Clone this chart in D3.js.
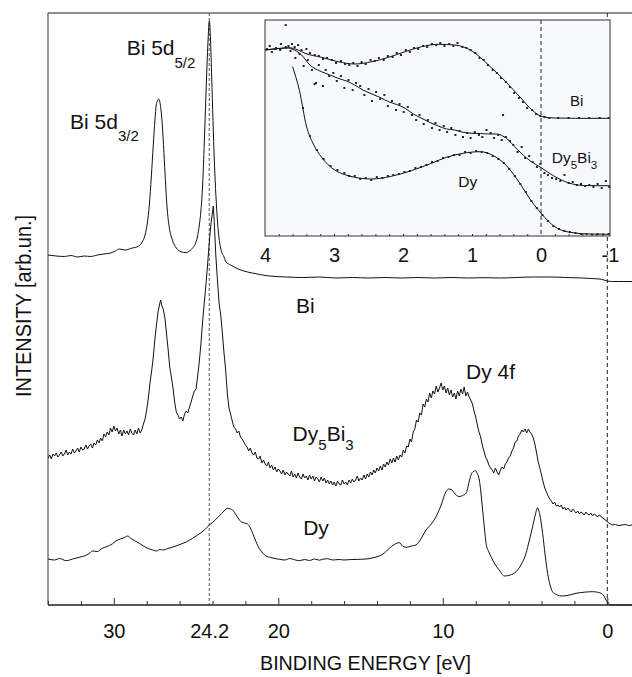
<!DOCTYPE html>
<html>
<head>
<meta charset="utf-8">
<script src="https://cdn.jsdelivr.net/npm/d3@7"></script>
<style>
  html, body { margin: 0; padding: 0; background: #fff; }
  svg { display: block; font-family: "Liberation Sans", Arial, sans-serif; }
</style>
</head>
<body>
<svg id="chart" width="632" height="677"></svg>
<script>
// ---------- Photoemission spectra: [binding energy (eV), intensity (arb. un.)] ----------
const biSpectrum = [
  [34.0,350],[33.5,349],[33.0,348.5],[32.6,349.5],[32.2,348],[31.8,349],[31.4,348.5],[31.0,350],
  [30.6,351],[30.2,352],[29.9,354],[29.67,356],[29.3,355],[28.88,357],[28.6,358],[28.27,363],
  [28.1,370],[27.96,382],[27.84,400],[27.72,428],[27.6,460],[27.5,485],[27.42,500],[27.35,504],
  [27.28,506],[27.2,503],[27.13,495],[27.03,475],[26.93,445],[26.75,395],[26.6,375],[26.44,365],
  [26.2,357],[25.92,353.3],[25.61,352.3],[25.4,354],[25.21,357],[25.05,361],[24.92,368],[24.8,380],
  [24.7,395],[24.6,420],[24.5,462],[24.36,528],[24.27,565],[24.19,584],[24.12,565],[24.05,528],
  [23.89,445],[23.69,382],[23.48,355],[23.3,348],[23.18,343],[22.9,340],[22.57,337],[22.1,334],
  [21.58,332],[20.55,329],[19.5,328],[18.5,327.5],[17.5,328],[16.5,327],[15.5,327.5],[14.5,327],
  [13.5,327.5],[12.5,327],[11.5,327.5],[10.5,327],[9.5,327.5],[8.5,327],[7.5,327.3],[6.5,327],
  [5.5,327.5],[4.5,328],[3.5,328],[2.5,327.5],[1.5,327],[1.0,326.5],[0.5,326],[0.2,325],
  [0.0,324],[-0.3,323.5],[-1.0,323.5],[-2.0,323.5]
];

const dy5bi3Spectrum = [
  [34.0,147],[33.9,150],[33.8,146],[33.7,151],[33.6,149],[33.5,152],[33.4,148],[33.3,150],
  [33.2,153],[33.1,149],[33.0,151],[32.9,155],[32.8,150],[32.7,153],[32.6,151],[32.5,156],
  [32.4,152],[32.3,154],[32.2,157],[32.1,153],[32.0,158],[31.9,155],[31.8,156],[31.7,160],
  [31.6,156],[31.5,159],[31.4,161],[31.3,157],[31.2,162],[31.1,160],[31.0,165],[30.9,162],
  [30.8,167],[30.7,164],[30.6,171],[30.5,168],[30.4,173],[30.3,170],[30.2,177],[30.1,173],
  [30.0,179],[29.9,174],[29.8,177],[29.7,171],[29.6,175],[29.5,169],[29.4,175],[29.3,171],
  [29.2,174],[29.1,170],[29.0,176],[28.9,172],[28.8,170],[28.7,175],[28.6,171],[28.5,177],
  [28.4,172],[28.3,175],[28.2,181],[28.1,186],[28.0,195],[27.9,207],[27.8,222],[27.7,234],
  [27.6,248],[27.5,266],[27.4,281],[27.3,294],[27.2,302],[27.15,305],[27.1,300],[27.0,296],
  [26.9,288],[26.8,272],[26.7,256],[26.6,238],[26.5,228],[26.4,217],[26.3,203],[26.2,193],
  [26.1,190],[26.0,186],[25.9,188],[25.8,184],[25.7,191],[25.6,194],[25.5,192],[25.4,198],
  [25.3,203],[25.2,209],[25.1,214],[25.0,216],[24.9,229],[24.8,244],[24.7,262],[24.6,284],
  [24.5,302],[24.4,320],[24.3,340],[24.2,362],[24.1,380],[24.0,393],[23.95,399],[23.9,385],
  [23.8,350],[23.7,325],[23.6,302],[23.5,290],[23.4,272],[23.3,252],[23.2,235],[23.1,212],
  [23.0,197],[22.9,191],[22.8,184],[22.7,178],[22.6,176],[22.5,172],[22.4,174],[22.3,168],
  [22.2,166],[22.1,163],[22.0,160],[21.9,158],[21.8,154],[21.7,157],[21.6,152],[21.5,150],
  [21.4,153],[21.3,147],[21.2,146],[21.1,149],[21.0,142],[20.9,145],[20.8,141],[20.7,139],
  [20.6,143],[20.5,137],[20.4,140],[20.3,135],[20.2,138],[20.1,133],[20.0,136],[19.9,134],
  [19.8,131],[19.7,135],[19.6,130],[19.5,133],[19.4,131],[19.3,129],[19.2,134],[19.1,128],
  [19.0,131],[18.9,127],[18.8,132],[18.7,128],[18.6,126],[18.5,131],[18.4,127],[18.3,129],
  [18.2,125],[18.1,130],[18.0,126],[17.9,129],[17.8,124],[17.7,128],[17.6,126],[17.5,123],
  [17.4,128],[17.3,124],[17.2,127],[17.1,122],[17.0,125],[16.9,121],[16.8,124],[16.7,120],
  [16.6,123],[16.5,119],[16.4,124],[16.3,121],[16.2,120],[16.1,125],[16.0,121],[15.9,123],
  [15.8,120],[15.7,125],[15.6,122],[15.5,126],[15.4,123],[15.3,125],[15.2,129],[15.1,124],
  [15.0,127],[14.9,125],[14.8,130],[14.7,126],[14.6,131],[14.5,128],[14.4,133],[14.3,130],
  [14.2,135],[14.1,132],[14.0,137],[13.9,134],[13.8,139],[13.7,135],[13.6,141],[13.5,138],
  [13.4,143],[13.3,140],[13.2,146],[13.1,142],[13.0,147],[12.9,143],[12.8,149],[12.7,145],
  [12.6,150],[12.5,148],[12.4,155],[12.3,152],[12.2,159],[12.1,158],[12.0,166],[11.9,163],
  [11.8,173],[11.7,176],[11.6,185],[11.5,183],[11.4,192],[11.3,190],[11.2,201],[11.1,198],
  [11.0,206],[10.9,203],[10.8,212],[10.7,207],[10.6,214],[10.5,211],[10.4,219],[10.3,213],
  [10.2,217],[10.1,222],[10.0,215],[9.9,219],[9.8,212],[9.7,217],[9.6,210],[9.5,215],
  [9.4,208],[9.3,212],[9.2,206],[9.1,214],[9.0,209],[8.9,216],[8.8,211],[8.7,218],
  [8.6,209],[8.5,213],[8.4,208],[8.3,205],[8.2,201],[8.1,194],[8.0,188],[7.9,180],
  [7.8,173],[7.7,168],[7.6,160],[7.5,154],[7.4,148],[7.3,145],[7.2,140],[7.1,137],
  [7.0,135],[6.9,132],[6.8,137],[6.7,133],[6.6,130],[6.5,135],[6.4,138],[6.3,136],
  [6.2,141],[6.1,143],[6.0,147],[5.9,149],[5.8,154],[5.7,157],[5.6,163],[5.5,164],
  [5.4,169],[5.3,171],[5.2,175],[5.1,173],[5.0,176],[4.9,172],[4.8,176],[4.7,173],
  [4.6,171],[4.5,167],[4.4,161],[4.3,152],[4.2,143],[4.1,137],[4.0,130],[3.9,123],
  [3.8,117],[3.7,113],[3.6,109],[3.5,106],[3.4,104],[3.3,101],[3.2,103],[3.1,99],
  [3.0,100],[2.9,98],[2.8,100],[2.7,96],[2.6,98],[2.5,95],[2.4,97],[2.3,95],
  [2.2,93],[2.1,96],[2.0,94],[1.9,92],[1.8,94],[1.7,91],[1.6,93],[1.5,92],
  [1.4,90],[1.3,93],[1.2,91],[1.1,90],[1.0,92],[0.9,89],[0.8,91],[0.7,90],
  [0.6,88],[0.5,90],[0.4,89],[0.3,87],[0.2,86],[0.1,85],[0.0,83],[-0.1,82],
  [-0.2,81],[-0.3,80],[-0.5,80.5],[-0.7,79.5],[-0.9,80],[-1.1,80.5],[-1.3,79.5],[-1.5,80],
  [-1.8,80],[-2.0,80]
];

const dySpectrum = [
  [34.0,46],[33.6,45],[33.3,46.5],[32.9,44.3],[32.5,46],[32.1,47.7],[31.8,49],[31.5,51.5],
  [31.3,54],[31.0,53.5],[30.7,56.7],[30.4,58.5],[30.1,61],[29.87,64],[29.6,66],[29.35,67.5],
  [29.16,69],[28.95,66.5],[28.7,64],[28.45,61.7],[28.2,59],[27.9,56.5],[27.64,55],[27.4,54],
  [27.2,55.5],[27.03,55],[26.7,56.5],[26.4,58],[26.22,59],[25.9,61],[25.6,63],[25.21,66.7],
  [24.9,70],[24.5,75],[24.19,80],[23.9,84],[23.59,89],[23.3,94],[23.08,96.7],[22.9,96],
  [22.78,95],[22.6,91],[22.4,86],[22.27,83.3],[22.05,82],[21.87,81],[21.7,77],[21.56,71.7],
  [21.36,63.5],[21.16,56.7],[20.95,52],[20.75,49],[20.45,47.5],[20.2,46.5],[19.94,45.7],[19.6,45],
  [19.3,46.5],[19.0,45.2],[18.72,44.3],[18.4,45.5],[18.1,44.5],[17.8,46],[17.5,44.8],[17.31,45.7],
  [17.0,46.3],[16.7,45],[16.3,45.5],[16.0,45],[15.6,45.5],[15.2,45.6],[14.67,46],[14.3,47],
  [13.86,49],[13.55,52],[13.25,56.7],[12.95,60.5],[12.64,62.3],[12.45,59],[12.24,57.7],[11.9,59],
  [11.63,60],[11.3,67],[11.02,75],[10.7,81],[10.41,88.3],[10.1,100],[9.81,113.3],[9.65,116],
  [9.5,115.7],[9.25,111],[9.0,108.3],[8.8,109.5],[8.59,111.7],[8.4,123],[8.29,130],[8.15,133.5],
  [8.02,134.3],[7.9,131.5],[7.78,125],[7.68,112],[7.58,95],[7.47,77],[7.37,61.7],[7.2,53],
  [7.07,48.3],[6.8,40],[6.57,35],[6.4,31],[6.26,29],[5.9,30],[5.55,33.3],[5.25,40],
  [4.94,51.7],[4.75,64],[4.54,78.3],[4.38,90],[4.24,97.3],[4.1,90],[3.93,71.7],[3.78,50],
  [3.63,31.7],[3.48,20],[3.33,13.3],[3.1,10.5],[2.72,9],[2.3,10],[1.9,11.7],[1.4,12.8],
  [0.89,13.3],[0.6,12.8],[0.38,11.7],[0.2,9],[0.08,5],[-0.1,1.5],[-0.22,0],[-0.5,0],[-2.0,0]
];

// Main axis ticks and labels
const mainMajorTicks = [30, 20, 10, 0];
const mainMinorTicks = [34, 32, 28, 26, 24, 22, 18, 16, 14, 12, 8, 6, 4, 2, -2];
const mainTickLabels = [30, 24.2, 20, 10, 0];
const markerEnergies = [24.2, 0];

// ---------- Valence-band inset: [binding energy (eV), intensity] ----------
const insetBiFit = [
  [4.0,186],[3.8,187.5],[3.66,188.3],[3.52,186],[3.42,182.7],[3.18,178.7],[2.94,174.3],[2.7,172],
  [2.45,174.3],[2.21,178.7],[1.97,184.3],[1.73,189.3],[1.49,191.7],[1.25,191],[1.0,185],[0.76,171],
  [0.52,155],[0.28,137],[0.13,126],[-0.01,119.5],[-0.2,118],[-0.5,117.7],[-1.0,117.7]
];
const insetDy5Bi3Fit = [
  [4.0,186],[3.8,187.5],[3.66,188],[3.61,187],[3.47,181],[3.35,171],[3.18,164.3],[3.06,161],
  [2.94,157.7],[2.82,155],[2.7,151],[2.58,146],[2.45,142],[2.33,138.5],[2.21,134.3],[2.09,131.5],
  [1.97,127.7],[1.85,122],[1.73,117.7],[1.61,113.5],[1.49,110],[1.37,107],[1.25,106],[1.13,103.7],
  [1.0,102.7],[0.88,102.5],[0.76,102],[0.64,102],[0.5,97.5],[0.35,87],[0.16,75.3],[-0.01,68],
  [-0.18,60.3],[-0.42,52.7],[-0.61,50.5],[-0.8,50.3],[-1.0,50.3]
];
const insetDyFit = [
  [3.6,169.3],[3.5,145.3],[3.4,110],[3.3,92],[3.18,78.7],[2.99,66],[2.85,61.5],[2.7,58.7],
  [2.46,57],[2.17,59.7],[1.88,65.3],[1.59,72.7],[1.37,78.7],[1.13,82.7],[0.88,84.3],[0.69,80.3],
  [0.5,70.3],[0.3,52],[0.16,37],[-0.01,22],[-0.18,10.3],[-0.42,3.7],[-0.71,2],[-1.0,1.7]
];
const insetBiPoints = [
  [3.97,187],[3.9,184],[3.84,188],[3.78,186],[3.7,211],[3.66,190],[3.61,192],[3.57,189],
  [3.52,191],[3.47,186],[3.4,187],[3.35,183],[3.28,181],[3.22,180],[3.16,177],[3.1,178],
  [3.03,176],[2.97,173],[2.9,175],[2.84,172],[2.78,171],[2.72,173],[2.66,170],[2.6,174],
  [2.54,172],[2.47,176],[2.41,175],[2.35,178],[2.28,176],[2.22,180],[2.15,179],[2.09,183],
  [2.03,181],[1.96,186],[1.9,184],[1.84,188],[1.78,187],[1.71,190],[1.65,189],[1.58,192],
  [1.52,191],[1.46,193],[1.4,190],[1.33,192],[1.27,190],[1.21,193],[1.14,189],[1.08,188],
  [1.02,186],[0.95,183],[0.89,178],[0.83,176],[0.77,171],[0.7,166],[0.64,163],[0.58,158],
  [0.51,154],[0.45,149],[0.39,143],[0.32,138],[0.26,134],[0.2,128],[0.13,126],[0.07,122],
  [0.01,120],[-0.05,119],[-0.12,118],[-0.25,118],[-0.4,118],[-0.55,118],[-0.7,118],[-0.85,118],[-0.98,118]
];
const insetDy5Bi3Points = [
  [3.93,190],[3.85,187],[3.77,192],[3.7,189],[3.63,185],[3.56,178],[3.5,182],[3.44,170],
  [3.38,176],[3.32,166],[3.28,152],[3.26,153],[3.22,171],[3.16,150],[3.12,166],[3.07,160],
  [3.01,163],[2.96,155],[2.9,160],[2.85,148],[2.79,156],[2.73,146],[2.68,153],[2.62,150],
  [2.56,141],[2.5,147],[2.45,135],[2.39,144],[2.33,137],[2.27,141],[2.22,130],[2.16,135],
  [2.1,126],[2.05,132],[1.99,124],[1.93,129],[1.87,121],[1.81,116],[1.76,121],[1.7,112],
  [1.64,116],[1.58,108],[1.53,113],[1.47,106],[1.41,110],[1.36,104],[1.3,108],[1.24,101],
  [1.18,105],[1.13,99],[1.07,103],[1.02,98],[0.96,104],[0.9,101],[0.85,99],[0.79,106],
  [0.73,103],[0.68,98],[0.62,101],[0.55,121],[0.57,96],[0.51,99],[0.45,95],[0.4,91],
  [0.34,84],[0.28,89],[0.23,78],[0.17,80],[0.12,74],[0.06,69],[0.01,72],[-0.05,63],
  [-0.1,61],[-0.16,58],[-0.22,57],[-0.28,55],[-0.34,61],[-0.4,53],[-0.46,54],[-0.52,51],
  [-0.58,52],[-0.64,50],[-0.7,51],[-0.76,49],[-0.82,52],[-0.88,48],[-0.94,55],[-0.99,49]
];
const insetDyPoints = [
  [3.45,128],[3.35,100],[3.25,86],[3.15,77],[3.05,70],[2.95,66],[2.85,63],[2.78,60],
  [2.7,60],[2.62,57],[2.54,58],[2.46,56],[2.38,59],[2.3,58],[2.22,60],[2.14,61],
  [2.06,62],[1.98,64],[1.9,65],[1.82,68],[1.74,69],[1.66,71],[1.58,74],[1.5,75],
  [1.42,78],[1.34,79],[1.26,81],[1.18,81],[1.1,84],[1.02,83],[0.94,85],[0.86,84],
  [0.78,83],[0.7,80],[0.62,77],[0.54,73],[0.46,67],[0.38,60],[0.3,52],[0.22,44],
  [0.14,35],[0.06,28],[-0.02,21],[-0.1,15],[-0.18,10],[-0.26,7],[-0.34,5],[-0.42,4],
  [-0.5,3],[-0.58,2],[-0.66,2],[-0.74,1.5],[-0.82,2],[-0.9,1.5],[-0.98,2]
];
const insetTickLabels = [4, 3, 2, 1, 0, -1];
const insetMinorTicks = [3.8,3.6,3.4,3.2,3,2.8,2.6,2.4,2.2,2,1.8,1.6,1.4,1.2,1,0.8,0.6,0.4,0.2,-0.2,-0.4,-0.6,-0.8];

// ---------- Drawing ----------
const svg = d3.select("#chart");
const W = 632;
const INK = "#111";

const x = d3.scaleLinear().domain([34, -2]).range([48, 640.2]);
const y = d3.scaleLinear().domain([0, 592]).range([605, 13]);
const [plotLeft] = x.range();
const [plotBottom, plotTop] = y.range();

svg.append("defs").append("clipPath").attr("id", "plotClip")
  .append("rect").attr("x", plotLeft).attr("y", plotTop - 2)
  .attr("width", W - plotLeft).attr("height", plotBottom - plotTop + 4);

// frame lines
svg.append("line").attr("x1", plotLeft).attr("x2", W).attr("y1", plotTop).attr("y2", plotTop)
  .attr("stroke", "#6a6a6a").attr("stroke-width", 1.5);
svg.append("line").attr("x1", plotLeft).attr("x2", plotLeft).attr("y1", plotTop).attr("y2", plotBottom)
  .attr("stroke", "#555").attr("stroke-width", 1.2);

// vertical markers at the Bi 5d5/2 position and the Fermi level
svg.append("g").selectAll("line").data(markerEnergies).join("line")
  .attr("x1", d => x(d)).attr("x2", d => x(d))
  .attr("y1", plotTop).attr("y2", plotBottom)
  .attr("stroke", (d, i) => i === 0 ? "#555" : "#222")
  .attr("stroke-width", 1)
  .attr("stroke-dasharray", (d, i) => i === 0 ? "3,2" : "4,3");

// spectra
const smoothLine = d3.line().x(d => x(d[0])).y(d => y(d[1])).curve(d3.curveMonotoneX);
const rawLine = d3.line().x(d => x(d[0])).y(d => y(d[1]));
const spectra = svg.append("g").attr("clip-path", "url(#plotClip)")
  .attr("fill", "none").attr("stroke", INK).attr("stroke-width", 1);
spectra.append("path").attr("d", smoothLine(biSpectrum));
spectra.append("path").attr("d", rawLine(dy5bi3Spectrum)).attr("stroke-linejoin", "round");
spectra.append("path").attr("d", smoothLine(dySpectrum));

// bottom axis
const axisG = svg.append("g").attr("transform", `translate(0,${plotBottom})`);
axisG.append("line").attr("x1", plotLeft).attr("x2", W).attr("stroke", "#222").attr("stroke-width", 1.3);
axisG.append("g").call(d3.axisBottom(x).tickValues(mainMinorTicks).tickSize(-4).tickFormat(""))
  .call(g => g.select(".domain").remove())
  .call(g => g.selectAll("line").attr("stroke", "#333"));
axisG.append("g").call(d3.axisBottom(x).tickValues(mainMajorTicks).tickSize(-7).tickFormat(""))
  .call(g => g.select(".domain").remove())
  .call(g => g.selectAll("line").attr("stroke", "#333"));
axisG.append("g").call(d3.axisBottom(x).tickValues(mainTickLabels).tickSize(0).tickPadding(19)
    .tickFormat(d => String(d)))
  .call(g => g.select(".domain").remove())
  .call(g => g.selectAll("text").attr("font-size", 20).attr("fill", INK)
    .attr("font-family", "'Liberation Sans', Arial, sans-serif"));

// axis titles
svg.append("text").attr("x", 365.5).attr("y", 670).attr("text-anchor", "middle")
  .attr("font-size", 20).attr("fill", INK)
  .attr("textLength", 211).attr("lengthAdjust", "spacingAndGlyphs")
  .text("BINDING ENERGY [eV]");
svg.append("text").attr("transform", "translate(31,306) rotate(-90)").attr("text-anchor", "middle")
  .attr("font-size", 22).attr("fill", INK)
  .attr("textLength", 182).attr("lengthAdjust", "spacingAndGlyphs")
  .text("INTENSITY [arb.un.]");

// spectrum annotations
function label(g, px, py, parts, size, subSize, subDy) {
  const t = g.append("text").attr("x", px).attr("y", py).attr("font-size", size).attr("fill", INK);
  parts.forEach(p => {
    if (p.sub) {
      t.append("tspan").attr("font-size", subSize).attr("dy", subDy).text(p.sub);
    } else {
      t.append("tspan").attr("dy", p.back ? -subDy : 0).text(p.txt);
    }
  });
  return t;
}
const ann = svg.append("g");
label(ann, x(32.66), y(476.5), [{txt: "Bi 5d"}, {sub: "3/2"}], 21, 15, 12);
label(ann, x(29.22), y(550), [{txt: "Bi 5d"}, {sub: "5/2"}], 21, 15, 13);
label(ann, x(18.92), y(291.7), [{txt: "Bi"}], 21);
label(ann, x(19.13), y(164), [{txt: "Dy"}, {sub: "5"}, {txt: "Bi", back: true}, {sub: "3"}], 21, 15, 9);
label(ann, x(8.59), y(226.5), [{txt: "Dy 4f"}], 21);
label(ann, x(18.49), y(70), [{txt: "Dy"}], 21);

// ---------- Inset ----------
const xi = d3.scaleLinear().domain([4, -1]).range([265, 610]);
const yi = d3.scaleLinear().domain([0, 216]).range([236, 20]);
const [iL, iR] = xi.range();
const [iB, iT] = yi.range();
const inset = svg.append("g");
inset.append("rect").attr("x", iL).attr("y", iT).attr("width", iR - iL).attr("height", iB - iT)
  .attr("fill", "#f8f9fc");
inset.append("line").attr("x1", xi(0)).attr("x2", xi(0)).attr("y1", iT).attr("y2", iB)
  .attr("stroke", "#222").attr("stroke-width", 1).attr("stroke-dasharray", "4,3");

const fitLine = d3.line().x(d => xi(d[0])).y(d => yi(d[1])).curve(d3.curveMonotoneX);
const fits = inset.append("g").attr("fill", "none").attr("stroke", INK).attr("stroke-width", 1);
[insetBiFit, insetDy5Bi3Fit, insetDyFit].forEach(s => fits.append("path").attr("d", fitLine(s)));

const dots = inset.append("g").attr("fill", "#222");
[insetBiPoints, insetDy5Bi3Points, insetDyPoints].forEach(s => {
  dots.append("g").selectAll("rect").data(s).join("rect")
    .attr("x", d => xi(d[0]) - 1).attr("y", d => yi(d[1]) - 1)
    .attr("width", 2).attr("height", 2);
});

inset.append("rect").attr("x", iL).attr("y", iT).attr("width", iR - iL).attr("height", iB - iT)
  .attr("fill", "none").attr("stroke", "#333").attr("stroke-width", 1);

const insetAxis = inset.append("g").attr("transform", `translate(0,${iB})`);
insetAxis.append("g").call(d3.axisBottom(xi).tickValues(insetMinorTicks).tickSize(-2).tickFormat(""))
  .call(g => g.select(".domain").remove())
  .call(g => g.selectAll("line").attr("stroke", "#333"));
insetAxis.append("g").call(d3.axisBottom(xi).tickValues(insetTickLabels).tickSize(0).tickPadding(12)
    .tickFormat(d => String(d)))
  .call(g => g.select(".domain").remove())
  .call(g => g.selectAll("text").attr("font-size", 20).attr("fill", INK)
    .attr("font-family", "'Liberation Sans', Arial, sans-serif"));

const insetAnn = inset.append("g");
label(insetAnn, xi(-0.42), yi(130.5), [{txt: "Bi"}], 15);
label(insetAnn, xi(-0.155), yi(73), [{txt: "Dy"}, {sub: "5"}, {txt: "Bi", back: true}, {sub: "3"}], 15.5, 11.5, 6);
label(insetAnn, xi(1.2), yi(49), [{txt: "Dy"}], 15.5);
</script>
</body>
</html>
